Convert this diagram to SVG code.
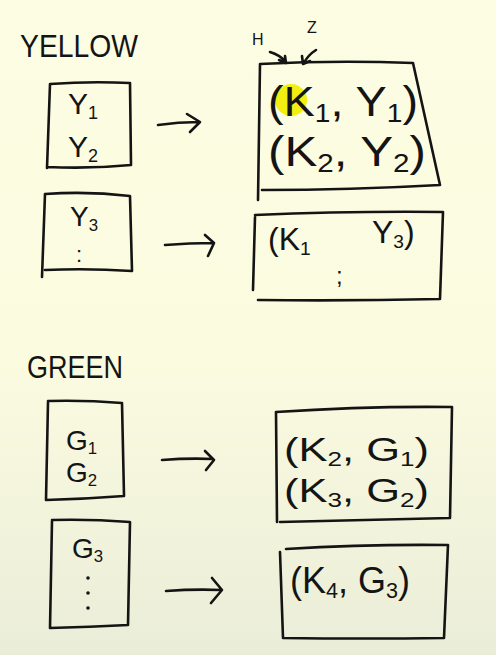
<svg xmlns="http://www.w3.org/2000/svg" width="496" height="655" viewBox="0 0 496 655">
<defs>
<linearGradient id="bg" x1="0" y1="0" x2="0" y2="1">
<stop offset="0" stop-color="#fdfde3"/>
<stop offset="0.55" stop-color="#fbfbe0"/>
<stop offset="1" stop-color="#eaedd8"/>
</linearGradient>
<style>
.s{fill:none;stroke:#141414;stroke-width:2.6;stroke-linecap:round;stroke-linejoin:round}
.t{font-family:"Liberation Sans",Arial,sans-serif;fill:#141414}
.sub{font-size:60%}
</style>
</defs>
<rect width="496" height="655" fill="url(#bg)"/>
<text class="t" x="20" y="57" font-size="32" textLength="118" lengthAdjust="spacingAndGlyphs">YELLOW</text>
<text class="t" x="27" y="378" font-size="32" textLength="96" lengthAdjust="spacingAndGlyphs">GREEN</text>
<g id="Y12">
<path class="s" d="M50,84 Q90,81 130,83 L131,165 Q90,169 47,167 M50,84 L47,168"/>
<text class="t" x="68" y="114" font-size="30">Y<tspan class="sub" dy="5">1</tspan></text>
<text class="t" x="68" y="157" font-size="30">Y<tspan class="sub" dy="5">2</tspan></text>
</g>
<g id="Y3">
<path class="s" d="M45,194 Q88,191 130,196 L132,271 Q88,268 45,270 M45,194 L42,277"/>
<text class="t" x="70" y="226" font-size="28">Y<tspan class="sub" dy="5">3</tspan></text>
<text class="t" x="76" y="262" font-size="22">:</text>
</g>
<g id="G12">
<path class="s" d="M48,401 Q85,400 122,403 L124,496 Q85,499 46,500 M48,402 L46,500"/>
<text class="t" x="66" y="450" font-size="28">G<tspan class="sub" dy="4">1</tspan></text>
<text class="t" x="66" y="482" font-size="28">G<tspan class="sub" dy="4">2</tspan></text>
</g>
<g id="G3">
<path class="s" d="M52,520 Q90,519 130,522 L128,625 Q90,627 50,628 M52,521 L50,628"/>
<text class="t" x="72" y="558" font-size="28">G<tspan class="sub" dy="4">3</tspan></text>
<circle cx="88" cy="578" r="1.8" fill="#141414"/>
<circle cx="88" cy="593" r="1.8" fill="#141414"/>
<circle cx="88" cy="608" r="1.8" fill="#141414"/>
</g>
<g id="R1">
<path class="s" d="M260,64 Q336,60 413,63 L440,185 Q350,190 262,190 M260,64 L258,200"/>
<circle cx="291" cy="100" r="16" fill="#f3ee12"/>
<text class="t" x="268" y="116" font-size="42" textLength="150" lengthAdjust="spacingAndGlyphs">(K<tspan class="sub" dy="6">1</tspan><tspan dy="-6">, Y</tspan><tspan class="sub" dy="6">1</tspan><tspan dy="-6">)</tspan></text>
<text class="t" x="268" y="166" font-size="42" textLength="158" lengthAdjust="spacingAndGlyphs">(K<tspan class="sub" dy="6">2</tspan><tspan dy="-6">, Y</tspan><tspan class="sub" dy="6">2</tspan><tspan dy="-6">)</tspan></text>
<text class="t" x="252" y="45" font-size="16">H</text>
<text class="t" x="307" y="33" font-size="16">Z</text>
<path class="s" stroke-width="1.8" d="M270,52 Q280,55 286,62 M279,60 L286,63 L285,56 M316,50 Q308,55 304,63 M302,56 L303,64 L310,61"/>
</g>
<g id="R2">
<path class="s" d="M255,215 Q350,211 443,212 L440,299 Q350,301 258,300 M255,217 L253,290"/>
<text class="t" x="268" y="250" font-size="32">(K<tspan class="sub" dy="5">1</tspan></text>
<text class="t" x="336" y="284" font-size="24">;</text>
<text class="t" x="372" y="243" font-size="32">Y<tspan class="sub" dy="5">3</tspan><tspan dy="-5">)</tspan></text>
</g>
<g id="R3">
<path class="s" d="M276,412 Q365,406 452,407 L450,518 Q365,520 280,522 M276,412 L277,522"/>
<text class="t" x="284" y="461" font-size="33" textLength="145" lengthAdjust="spacingAndGlyphs">(K<tspan class="sub" dy="5">2</tspan><tspan dy="-5">, G</tspan><tspan class="sub" dy="5">1</tspan><tspan dy="-5">)</tspan></text>
<text class="t" x="284" y="502" font-size="33" textLength="145" lengthAdjust="spacingAndGlyphs">(K<tspan class="sub" dy="5">3</tspan><tspan dy="-5">, G</tspan><tspan class="sub" dy="5">2</tspan><tspan dy="-5">)</tspan></text>
</g>
<g id="R4">
<path class="s" d="M286,549 Q368,544 448,545 L444,638 Q364,639 283,638 M280,552 L283,638"/>
<text class="t" x="290" y="593" font-size="36">(K<tspan class="sub" dy="5">4</tspan><tspan dy="-5">, G</tspan><tspan class="sub" dy="5">3</tspan><tspan dy="-5">)</tspan></text>
</g>
<g id="connectors">
<path class="s" d="M158,125 Q178,122 199,122 M187,114 L200,122 L190,132"/>
<path class="s" d="M165,245 Q190,243 213,243 M205,235 L214,243 L208,256"/>
<path class="s" d="M162,460 Q188,458 213,459 M205,451 L214,460 L206,470"/>
<path class="s" d="M166,591 Q194,589 221,590 M212,578 L222,590 L211,603"/>
</g>
</svg>
